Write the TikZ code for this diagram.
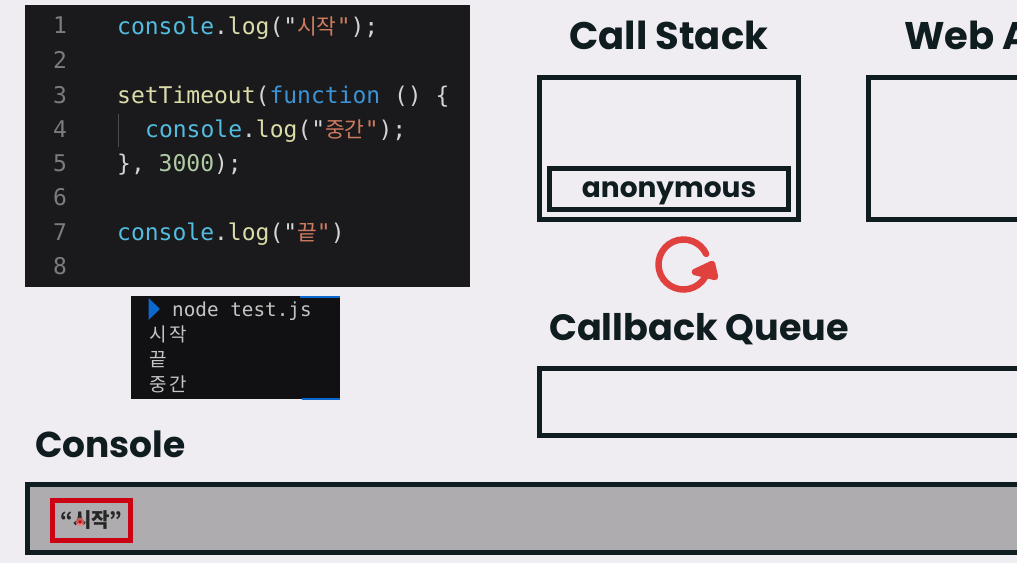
\documentclass[tikz,border=0pt]{standalone}
\usepackage{fontspec}
\usepackage{tikz}
\usetikzlibrary{calc,positioning,arrows.meta}
\setmainfont{Poppins}
\setmonofont{DejaVu Sans Mono}
\newfontfamily\kor{Noto Sans CJK KR}
\definecolor{pagebg}{HTML}{F0EDF2}
\definecolor{inkdark}{HTML}{0F1C20}
\definecolor{codebg}{HTML}{1A1A1C}
\definecolor{termbg}{HTML}{111113}
\definecolor{consolebg}{HTML}{AEACAE}
\definecolor{cfunc}{HTML}{52BDE0}
\definecolor{cstr}{HTML}{CE7A5F}
\definecolor{cyel}{HTML}{DCDCAA}
\definecolor{ckey}{HTML}{3A94D6}
\definecolor{cnum}{HTML}{B0CBA4}
\definecolor{cpun}{HTML}{D4D4D4}
\definecolor{cgrey}{HTML}{7C7C7C}
\definecolor{termtxt}{HTML}{C4C4C4}
\definecolor{termblue}{HTML}{0A68CE}
\definecolor{redbox}{HTML}{CC0312}
\definecolor{redloop}{HTML}{E0413F}
\newcommand{\fn}[1]{\textcolor{cfunc}{#1}}
\newcommand{\st}[1]{\textcolor{cstr}{#1}}
\newcommand{\yl}[1]{\textcolor{cyel}{#1}}
\newcommand{\ky}[1]{\textcolor{ckey}{#1}}
\newcommand{\nm}[1]{\textcolor{cnum}{#1}}
\newcommand{\hg}[1]{{\kor\fontsize{21.5}{21.5}\selectfont #1}}
\tikzset{
	box/.style={draw=inkdark, line width=4.8pt, inner sep=0pt, outer sep=0pt, anchor=north west},
	title/.style={font=\fontsize{38.5}{38.5}\selectfont\bfseries, text=inkdark, anchor=base west, inner sep=0pt},
	codeline/.style={font=\ttfamily\fontsize{23}{23}\selectfont, text=cpun, anchor=base west, inner sep=0pt},
	linenum/.style={font=\ttfamily\fontsize{23}{23}\selectfont, text=cgrey, anchor=base, inner sep=0pt},
	termline/.style={font=\ttfamily\fontsize{19.3}{19.3}\selectfont, text=termtxt, anchor=base west, inner sep=0pt},
}
\begin{document}
\begin{tikzpicture}[x=1pt, y=1pt]
	\clip (0,0) rectangle (1017,563);
	\fill[pagebg] (0,0) rectangle (1017,563);

	% code panel
	\node[fill=codebg, inner sep=0pt, minimum width=445pt, minimum height=282pt, anchor=north west] (codepanel) at (25,558) {};
	\foreach \n/\yy in {1/529,2/494,3/459.5,4/425,5/391,6/357,7/322,8/288}{
		\node[linenum] (num\n) at (60,\yy) {\n};
	}
	\node[codeline] (line1) at (117,528.5) {\fn{console}.\yl{log}("\st{\hg{시작}}\st{"});};
	\node[codeline] (line3) at (117,459.5) {\yl{setTimeout}(\ky{function} () \{};
	\node[codeline] (line4) at (145,425) {\fn{console}.\yl{log}("\st{\hg{중간}}\st{"});};
	\node[codeline] (line5) at (117,391) {\}, \nm{3000});};
	\node[codeline] (line7) at (117,322) {\fn{console}.\yl{log}("\st{\hg{끝}}\st{"})};
	\coordinate (guidetop) at (118.5,449);
	\coordinate (guidebot) at (118.5,416);
	\draw[color=black!70!white, line width=0.8pt] (guidetop) -- (guidebot);

	% terminal panel
	\node[fill=termbg, inner sep=0pt, minimum width=209pt, minimum height=103pt, anchor=north west] (termpanel) at (131,267) {};
	\fill[termblue] (300,265.5) rectangle (340,267.5);
	\fill[termblue] (302,163.5) rectangle (340,165);
	\fill[termblue] (148.5,265) -- (160,254) -- (148.5,243) -- cycle;
	\node[termline] (term1) at (172,246.5) {node test.js};
	\node[termline, font=\kor\fontsize{19}{19}\selectfont] (term2) at (149,222) {시\hspace{3pt}작};
	\node[termline, font=\kor\fontsize{19}{19}\selectfont] (term3) at (149,197) {끝};
	\node[termline, font=\kor\fontsize{19}{19}\selectfont] (term4) at (149,172) {중\hspace{3pt}간};

	% headings
	\node[title] (callstack) at (569,513) {Call Stack};
	\node[title] (webapi) at (904,513) {Web A};
	\node[title, font=\fontsize{36.6}{36.6}\selectfont\bfseries] (callback) at (549,223) {Callback Queue};
	\node[title, font=\fontsize{36}{36}\selectfont\bfseries] (console) at (35,106) {Console};

	% boxes
	\node[box, minimum width=259.5pt, minimum height=142.5pt] (stackbox) at (539.25,485.75) {};
	\node[box, minimum width=239.5pt, minimum height=41.5pt] (anonbox) at (549.25,394.75) {};
	\node[font=\fontsize{28}{28}\selectfont\bfseries, text=inkdark, inner sep=0pt] (anon) at (669,370) {anonymous};
	\node[box, minimum width=180pt, minimum height=142.5pt] (webbox) at (868.25,485.75) {};
	\node[box, minimum width=520pt, minimum height=67.5pt] (queuebox) at (539.25,194.75) {};

	% event loop mark
	\draw[redloop, line width=6.5pt, line cap=round] (683.5,298.5) ++(25:25) arc[start angle=25, end angle=343, radius=25];
	\draw[redloop, fill=redloop, line width=6.5pt, line cap=round, line join=round] (695,291) -- (712,299) -- (715,286) -- cycle;

	% console strip
	\node[box, line width=5pt, fill=consolebg, minimum width=1040pt, minimum height=68pt] (consolebox) at (27.5,78.5) {};
	\node[draw=redbox, line width=5pt, inner sep=0pt, outer sep=0pt, minimum width=78pt, minimum height=40pt, anchor=north west] (logbox) at (52.5,62.5) {};
	\node[font=\kor\fontsize{20}{20}\selectfont\bfseries, text=black!85, inner sep=0pt] (logtext) at (91.5,43) {“시작”};
	\fill[red!50!pagebg, opacity=0.7] (80,41) circle (4.5pt);
	\fill[red!85!black] (80,41) circle (1.8pt);
\end{tikzpicture}
\end{document}
